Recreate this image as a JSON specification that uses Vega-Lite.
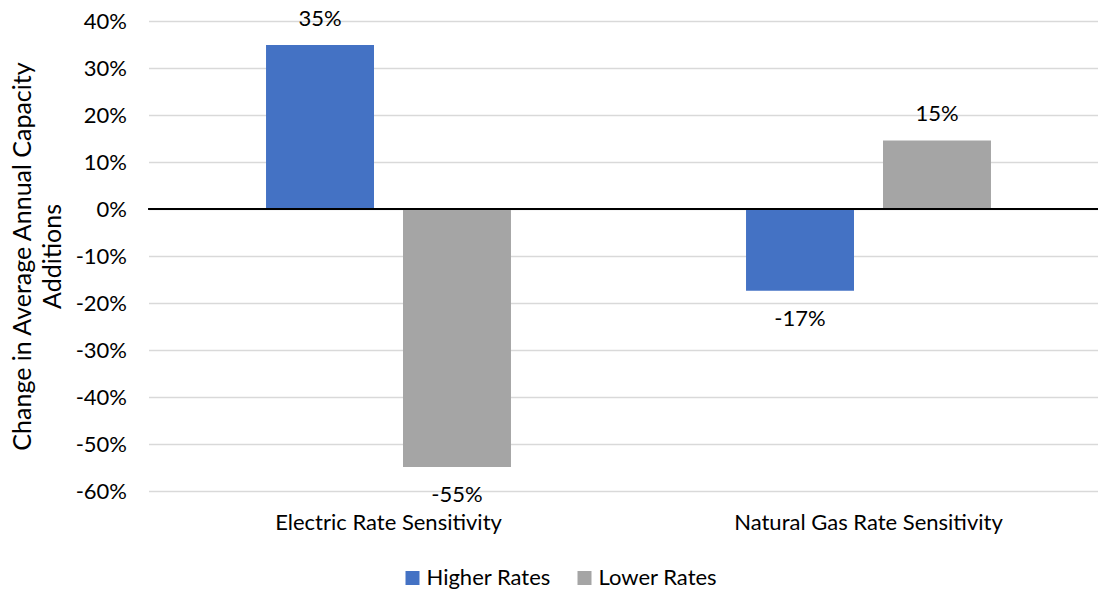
{
  "$schema": "https://vega.github.io/schema/vega-lite/v6.json",
  "width": 950,
  "height": 470,
  "autosize": "none",
  "padding": {"left": 148.5, "top": 21, "right": 0, "bottom": 99},
  "config": {
    "view": {"stroke": null},
    "font": "Lato",
    "text": {"font": "Lato"}
  },
  "data": {
    "values": [
      {"category": "Electric Rate Sensitivity", "series": "Higher Rates", "value": 0.349, "label": "35%"},
      {"category": "Electric Rate Sensitivity", "series": "Lower Rates", "value": -0.549, "label": "-55%"},
      {"category": "Natural Gas Rate Sensitivity", "series": "Higher Rates", "value": -0.174, "label": "-17%"},
      {"category": "Natural Gas Rate Sensitivity", "series": "Lower Rates", "value": 0.146, "label": "15%"}
    ]
  },
  "layer": [
    {
      "mark": {"type": "bar"},
      "encoding": {
        "x": {
          "field": "category", "type": "nominal", "sort": null,
          "scale": {"range": [0, 960], "paddingInner": 0, "paddingOuter": 0},
          "axis": {"title": null, "ticks": false, "domain": false, "labelAngle": 0, "labelPadding": 21, "labelFontSize": 22, "labelColor": "#000000", "labelFont": "Lato", "labelLimit": 0}
        },
        "xOffset": {"field": "series", "type": "nominal", "scale": {"paddingInner": 0.2117, "paddingOuter": 0.858}},
        "y": {
          "field": "value", "type": "quantitative",
          "scale": {"domain": [-0.6, 0.4], "nice": false, "zero": false},
          "axis": {
            "values": [-0.6, -0.5, -0.4, -0.3, -0.2, -0.1, 0, 0.1, 0.2, 0.3, 0.4],
            "labelExpr": "(datum.value < -0.0001 ? '-' : '') + format(abs(datum.value), '.0%')",
            "ticks": false, "domain": false,
            "gridColor": "#D9D9D9", "gridWidth": 1.3,
            "labelFontSize": 22, "labelColor": "#000000", "labelPadding": 22, "labelFont": "Lato",
            "title": ["Change in Average Annual Capacity", "Additions"],
            "titleFontSize": 25, "titleFontWeight": "normal", "titleColor": "#000000", "titleFont": "Lato",
            "titleLineHeight": 30,
            "titlePadding": 10
          }
        },
        "color": {
          "field": "series", "type": "nominal",
          "scale": {"domain": ["Higher Rates", "Lower Rates"], "range": ["#4472C4", "#A5A5A5"]},
          "legend": {
            "title": null, "orient": "none", "direction": "horizontal",
            "legendX": 253, "legendY": 546,
            "symbolType": "square", "symbolSize": 196, "symbolStrokeWidth": 0,
            "labelFontSize": 22, "labelColor": "#000000", "labelFont": "Lato",
            "labelOffset": 3, "columnPadding": 22
          }
        }
      }
    },
    {
      "mark": {"type": "rule", "color": "#000000", "strokeWidth": 2},
      "encoding": {"y": {"datum": 0, "type": "quantitative"}}
    },
    {
      "transform": [{"filter": "datum.value >= 0"}],
      "mark": {"type": "text", "fontSize": 22, "color": "#000000", "dy": -26, "baseline": "middle"},
      "encoding": {
        "x": {"field": "category", "type": "nominal", "sort": null},
        "xOffset": {"field": "series", "type": "nominal"},
        "y": {"field": "value", "type": "quantitative"},
        "text": {"field": "label"}
      }
    },
    {
      "transform": [{"filter": "datum.value < 0"}],
      "mark": {"type": "text", "fontSize": 22, "color": "#000000", "dy": 28, "baseline": "middle"},
      "encoding": {
        "x": {"field": "category", "type": "nominal", "sort": null},
        "xOffset": {"field": "series", "type": "nominal"},
        "y": {"field": "value", "type": "quantitative"},
        "text": {"field": "label"}
      }
    }
  ]
}
